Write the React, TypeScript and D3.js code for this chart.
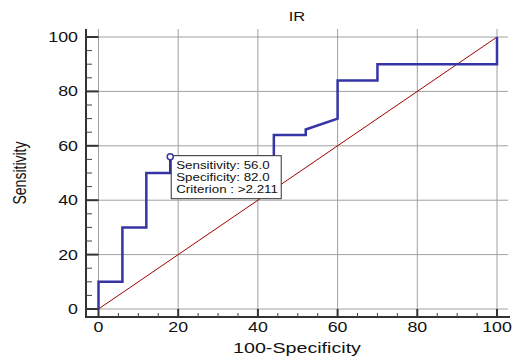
import React from 'react';
import * as d3 from 'd3';

// ROC curve vertices for "IR"
const falsePos = [0, 0, 6, 6, 12, 12, 18, 18, 44, 44, 52, 52, 60, 60, 70, 70, 100, 100];
const sensitivity = [0, 10, 10, 30, 30, 50, 50, 56, 56, 64, 64, 66, 70, 84, 84, 90, 90, 100];
const ticks = [0, 20, 40, 60, 80, 100];
const tipLines = ['Sensitivity: 56.0', 'Specificity: 82.0', 'Criterion : >2.211'];
const tipPoint = { fp: 18, sens: 56 };

const W = 513;
const H = 358;
const SX = 1.27; // the source image is stretched wide
const FONT = 'Liberation Sans, Arial, sans-serif';

const App = () => {
  const x = d3.scaleLinear().domain([0, 100]).range([98.5, 497]);
  const y = d3.scaleLinear().domain([0, 100]).range([309, 37]);
  const left = 86, right = 508, top = 29, bottom = 317;

  const minor = d3.range(0, 101, 5).filter(v => v % 20 !== 0);
  const rocLine = d3.line<number>()
    .x((_, i) => x(falsePos[i]))
    .y((d) => y(d));

  const cx = x(tipPoint.fp), cy = y(tipPoint.sens);
  const boxX = cx + 1, boxY = cy - 1;

  const stretched = (tx: number, ty: number) => `translate(${tx},${ty}) scale(${SX},1)`;

  return (
    <svg width={W} height={H} style={{ position: 'absolute', left: 0, top: 0, background: '#fff' }} fontFamily={FONT}>
      {/* grid */}
      {ticks.map(t => (
        <g key={'g' + t}>
          <line x1={x(t)} x2={x(t)} y1={top} y2={bottom} stroke="#a0a0a0" strokeWidth={1} />
          <line x1={left} x2={right} y1={y(t)} y2={y(t)} stroke="#a0a0a0" strokeWidth={1} />
        </g>
      ))}

      {/* axes */}
      <line x1={left} x2={left} y1={top} y2={bottom + 1} stroke="#333" strokeWidth={2} />
      <line x1={left - 1} x2={right + 2} y1={bottom} y2={bottom} stroke="#333" strokeWidth={2} />
      {ticks.map(t => (
        <g key={'t' + t}>
          <line x1={left} x2={x(0)} y1={y(t)} y2={y(t)} stroke="#333" strokeWidth={2} />
          <line x1={x(t)} x2={x(t)} y1={y(0)} y2={bottom} stroke="#333" strokeWidth={2} />
          <text transform={stretched(78, y(t) + 5)} textAnchor="end" fontSize={14} fill="#111">{t}</text>
          <text transform={stretched(x(t), 332)} textAnchor="middle" fontSize={14} fill="#111">{t}</text>
        </g>
      ))}
      {minor.map(t => (
        <g key={'m' + t}>
          <line x1={left} x2={left + 6} y1={y(t)} y2={y(t)} stroke="#444" strokeWidth={1} />
          <line x1={x(t)} x2={x(t)} y1={bottom - 4} y2={bottom} stroke="#444" strokeWidth={1} />
        </g>
      ))}

      {/* reference diagonal */}
      <line x1={x(0)} y1={y(0)} x2={x(100)} y2={y(100)} stroke="#a00000" strokeWidth={1} />

      {/* ROC curve */}
      <path d={rocLine(sensitivity) || ''} fill="none" stroke="#3535a5" strokeWidth={2.5} />

      {/* criterion tooltip */}
      <rect x={boxX} y={boxY} width={110} height={43} fill="#fff" stroke="#333" strokeWidth={1} />
      {tipLines.map((s, i) => (
        <text key={s} transform={stretched(boxX + 5, 168.5 + i * 12.4)} fontSize={10.5} fill="#111">{s}</text>
      ))}
      <circle cx={cx} cy={cy} r={3} fill="#fff" stroke="#3535a5" strokeWidth={1.5} />

      {/* titles */}
      <text transform={stretched((left + right) / 2, 20.5)} textAnchor="middle" fontSize={13} fill="#111">IR</text>
      <text transform={stretched((left + right) / 2, 353)} textAnchor="middle" fontSize={15.5} fill="#111">100-Specificity</text>
      <text transform={`translate(26,${(top + bottom) / 2}) scale(${SX},1) rotate(-90)`} textAnchor="middle" fontSize={14} fill="#111">Sensitivity</text>
    </svg>
  );
};

export default App;
